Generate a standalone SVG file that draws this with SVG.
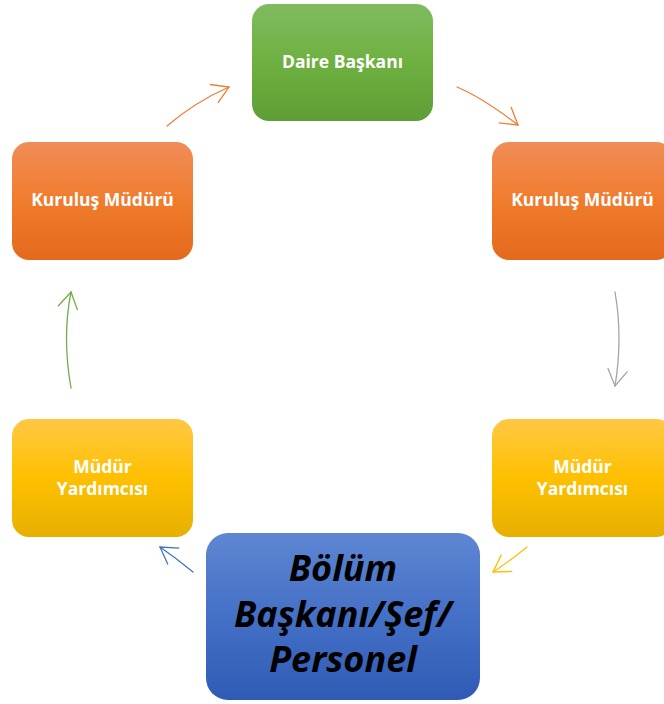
<svg xmlns="http://www.w3.org/2000/svg" width="664" height="704" viewBox="0 0 664 704">
  <style>
    .lbl { font-family: "Open Sans", "Liberation Sans", sans-serif; font-weight: bold; fill: #ffffff; text-anchor: middle; font-size: 17.5px; }
    .big { font-family: "Open Sans", "Liberation Sans", sans-serif; font-weight: bold; font-style: italic; fill: #000000; text-anchor: middle; font-size: 36px; }
    .conn { fill: none; stroke-width: 1.3; stroke-linecap: round; }
  </style>
  <defs>
    <linearGradient id="gGreen" x1="0" y1="0" x2="0" y2="1">
      <stop offset="0" stop-color="#80bb60"/>
      <stop offset="0.5" stop-color="#6eb040"/>
      <stop offset="1" stop-color="#5f9e36"/>
    </linearGradient>
    <linearGradient id="gOrange" x1="0" y1="0" x2="0" y2="1">
      <stop offset="0" stop-color="#f18d58"/>
      <stop offset="0.5" stop-color="#f07c2e"/>
      <stop offset="1" stop-color="#e5691c"/>
    </linearGradient>
    <linearGradient id="gYellow" x1="0" y1="0" x2="0" y2="1">
      <stop offset="0" stop-color="#ffc845"/>
      <stop offset="0.5" stop-color="#ffc000"/>
      <stop offset="1" stop-color="#e6b000"/>
    </linearGradient>
    <linearGradient id="gBlue" x1="0" y1="0" x2="0" y2="1">
      <stop offset="0" stop-color="#5e86d2"/>
      <stop offset="0.5" stop-color="#4470c6"/>
      <stop offset="1" stop-color="#2f5bb5"/>
    </linearGradient>
    <marker id="aOrange" markerUnits="userSpaceOnUse" orient="auto" refX="0" refY="0" markerWidth="40" markerHeight="40" viewBox="-20 -20 40 40" overflow="visible">
      <path d="M-16.5,-10 L0,0 L-16.5,10" fill="none" stroke="#ed7d31" stroke-width="1.3"/>
    </marker>
    <marker id="aGrey" markerUnits="userSpaceOnUse" orient="auto" refX="0" refY="0" markerWidth="40" markerHeight="40" viewBox="-20 -20 40 40" overflow="visible">
      <path d="M-16.5,-10 L0,0 L-16.5,10" fill="none" stroke="#a5a5a5" stroke-width="1.3"/>
    </marker>
    <marker id="aYellow" markerUnits="userSpaceOnUse" orient="auto" refX="0" refY="0" markerWidth="40" markerHeight="40" viewBox="-20 -20 40 40" overflow="visible">
      <path d="M-16.5,-10 L0,0 L-16.5,10" fill="none" stroke="#ffc000" stroke-width="1.3"/>
    </marker>
    <marker id="aBlue" markerUnits="userSpaceOnUse" orient="auto" refX="0" refY="0" markerWidth="40" markerHeight="40" viewBox="-20 -20 40 40" overflow="visible">
      <path d="M-16.5,-10 L0,0 L-16.5,10" fill="none" stroke="#4472c4" stroke-width="1.3"/>
    </marker>
    <marker id="aGreen" markerUnits="userSpaceOnUse" orient="auto" refX="0" refY="0" markerWidth="40" markerHeight="40" viewBox="-20 -20 40 40" overflow="visible">
      <path d="M-16.5,-10 L0,0 L-16.5,10" fill="none" stroke="#70ad47" stroke-width="1.3"/>
    </marker>
  </defs>
  <rect width="664" height="704" fill="#ffffff"/>

  <g id="connectors">
    <path class="conn" stroke="#ed7d31" d="M167,126 Q195,102 229,87" marker-end="url(#aOrange)"/>
    <path class="conn" stroke="#ed7d31" d="M457,87 Q483,98 518,125" marker-end="url(#aOrange)"/>
    <path class="conn" stroke="#a5a5a5" d="M615,292 Q623,338 615,386" marker-end="url(#aGrey)"/>
    <path class="conn" stroke="#ffc000" d="M527,547 Q510,561 493,572" marker-end="url(#aYellow)"/>
    <path class="conn" stroke="#4472c4" d="M193,572 Q176,558 160,547" marker-end="url(#aBlue)"/>
    <path class="conn" stroke="#70ad47" d="M71,388 Q62,337 71,292" marker-end="url(#aGreen)"/>
  </g>

  <g id="daire-baskani">
    <rect x="252" y="4" width="181" height="117" rx="17" fill="url(#gGreen)"/>
    <text class="lbl" x="342.5" y="68">Daire Başkanı</text>
  </g>
  <g id="kurulus-muduru-right">
    <rect x="492" y="142" width="181" height="118" rx="17" fill="url(#gOrange)"/>
    <text class="lbl" x="582.5" y="206">Kuruluş Müdürü</text>
  </g>
  <g id="mudur-yardimcisi-right">
    <rect x="492" y="419" width="181" height="118" rx="17" fill="url(#gYellow)"/>
    <text class="lbl" x="582.5" y="473">Müdür</text>
    <text class="lbl" x="582.5" y="495">Yardımcısı</text>
  </g>
  <g id="bolum-baskani">
    <rect x="206" y="533" width="274" height="167" rx="22" fill="url(#gBlue)"/>
    <text class="big" x="343" y="581">Bölüm</text>
    <text class="big" x="343" y="627">Başkanı/Şef/</text>
    <text class="big" x="343" y="672">Personel</text>
  </g>
  <g id="mudur-yardimcisi-left">
    <rect x="12" y="419" width="181" height="118" rx="17" fill="url(#gYellow)"/>
    <text class="lbl" x="102.5" y="473">Müdür</text>
    <text class="lbl" x="102.5" y="495">Yardımcısı</text>
  </g>
  <g id="kurulus-muduru-left">
    <rect x="12" y="142" width="181" height="118" rx="17" fill="url(#gOrange)"/>
    <text class="lbl" x="102.5" y="206">Kuruluş Müdürü</text>
  </g>
</svg>
